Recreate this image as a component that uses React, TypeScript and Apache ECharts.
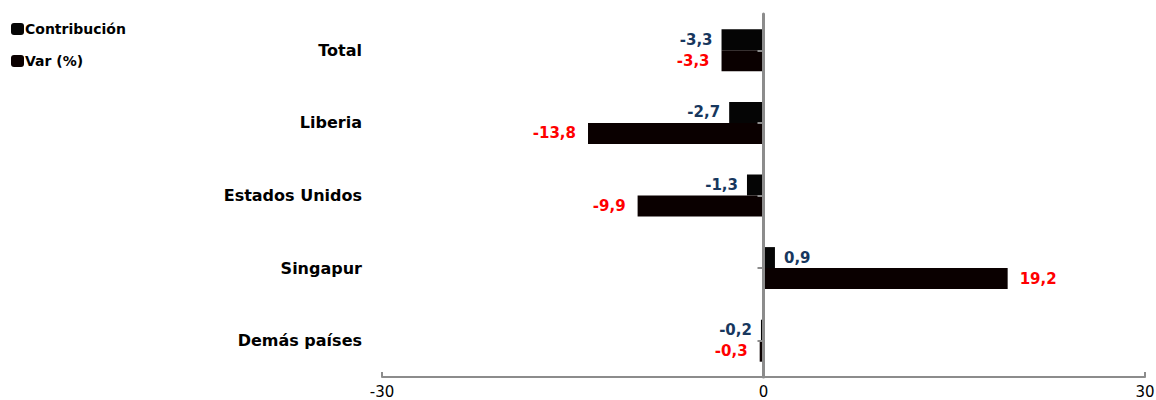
import React, { useEffect, useRef } from "react";
import * as echarts from "echarts";

const categories = ["Total", "Liberia", "Estados Unidos", "Singapur", "Demás países"];
const contribucion = [-3.3, -2.7, -1.3, 0.9, -0.2];
const variacion = [-3.3, -13.8, -9.9, 19.2, -0.3];
const xTicks = [-30, 0, 30];

const fmt = (v: number) => v.toFixed(1).replace(".", ",");

export default function App() {
  const ref = useRef<HTMLDivElement>(null);
  useEffect(() => {
    if (!ref.current) return;
    const chart = echarts.init(ref.current, null, { renderer: "svg" });
    const labelFont = { fontFamily: "DejaVu Sans", fontWeight: "bold" as const, fontSize: 15 };
    const mkLabel = (color: string) => ({
      show: true,
      ...labelFont,
      color,
      formatter: (p: any) => fmt(p.value),
    });
    chart.setOption({
      animation: false,
      backgroundColor: "#ffffff",
      legend: {
        orient: "vertical",
        left: 6,
        top: 17,
        itemGap: 18,
        itemWidth: 13,
        itemHeight: 12,
        icon: "roundRect",
        textStyle: { ...labelFont, fontSize: 14, color: "#000", padding: [0, 0, 0, -4] },
        data: ["Contribución", "Var (%)"],
      },
      grid: { left: 382, right: 11, top: 14, bottom: 23, containLabel: false, outerBoundsMode: "none" },
      xAxis: {
        type: "value",
        min: xTicks[0],
        max: xTicks[2],
        interval: 30,
        splitLine: { show: false },
        axisLine: { show: true, lineStyle: { color: "#8c8c8c", width: 2 } },
        axisTick: { show: true, inside: true, length: 5, lineStyle: { color: "#8c8c8c", width: 2 } },
        axisLabel: { color: "#000", fontFamily: "DejaVu Sans", fontSize: 15, margin: 7, hideOverlap: false },
      },
      yAxis: [
        {
          type: "category",
          data: categories,
          inverse: true,
          position: "left",
          axisLine: { show: false, onZero: false },
          axisTick: { show: false },
          axisLabel: { ...labelFont, fontSize: 16, color: "#000", margin: 20 },
        },
        {
          type: "category",
          data: categories,
          inverse: true,
          position: "left",
          z: 5,
          axisLine: { show: true, onZero: true, lineStyle: { color: "#8c8c8c", width: 3 } },
          axisTick: { show: true, alignWithLabel: true, length: 6, lineStyle: { color: "#8c8c8c", width: 2 } },
          axisLabel: { show: false },
        },
      ],
      series: [
        {
          name: "Contribución",
          type: "bar",
          yAxisIndex: 0,
          data: contribucion.map((v) => ({
            value: v,
            label: { position: v < 0 ? "left" : "right", distance: 9 },
          })),
          barWidth: 21,
          barGap: "0%",
          itemStyle: { color: "#050505" },
          label: mkLabel("#17375e"),
          z: 2,
        },
        {
          name: "Var (%)",
          type: "bar",
          yAxisIndex: 0,
          data: variacion.map((v) => ({
            value: v,
            label: { position: v < 0 ? "left" : "right", distance: 12 },
          })),
          barWidth: 21,
          barGap: "0%",
          itemStyle: { color: "#0a0000" },
          label: mkLabel("#ff0000"),
          z: 2,
        },
      ],
    });
    return () => chart.dispose();
  }, []);
  return <div ref={ref} style={{ width: 1156, height: 400, position: "absolute", left: 0, top: 0 }} />;
}
